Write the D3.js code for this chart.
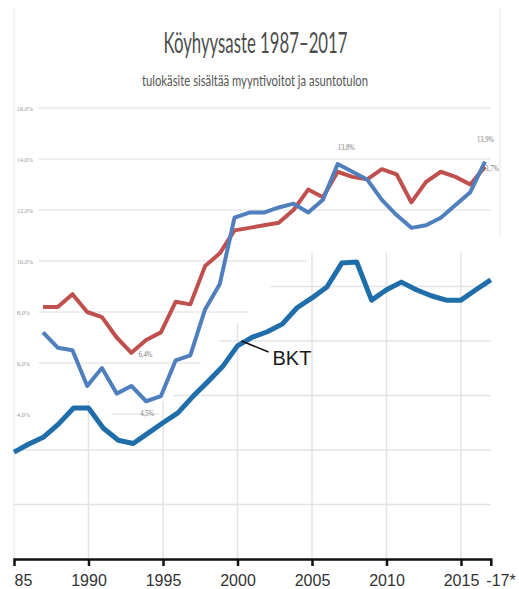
<!DOCTYPE html>
<html>
<head>
<meta charset="utf-8">
<script src="https://cdn.jsdelivr.net/npm/d3@7"></script>
<style>
  body { margin: 0; background: #fff; }
  svg { display: block; }
</style>
</head>
<body>
<div id="chart"></div>
<script>
// poverty rate (upper chart), 1987-2017, percent
const povYears = d3.range(1987, 2018)
const povRed = [8.2, 8.2, 8.7, 8.0, 7.8, 7.0, 6.4, 6.9, 7.2, 8.4, 8.3, 9.8, 10.3, 11.2, 11.3, 11.4,
  11.5, 12.0, 12.8, 12.5, 13.5, 13.3, 13.2, 13.6, 13.4, 12.3, 13.1, 13.5, 13.3, 13.0, 13.7]
const povBlue = [7.2, 6.6, 6.5, 5.1, 5.8, 4.8, 5.1, 4.5, 4.7, 6.1, 6.3, 8.1, 9.1, 11.7, 11.9, 11.9,
  12.1, 12.25, 11.9, 12.4, 13.8, 13.5, 13.2, 12.4, 11.8, 11.3, 11.4, 11.7, 12.2, 12.7, 13.9]
const povTicks = [4, 6, 8, 10, 12, 14, 16]
const povTickLabels = ['4,0%', '6,0%', '8,0%', '10,0%', '12,0%', '14,0%', '16,0%']
// where each upper gridline stops being visible (year units)
const povGridFrom = [1991.7, 1986.7, 1986.7, 1986.7, 1986.7, 1986.7, 1986.7]
const povGridTo = [1994.9, 1997.7, 2000.9, 2004.9, 2017.4, 2017.4, 2017.4]
const povNotes = [
  { text: '6,4%', year: 1993, series: 'red' },
  { text: '4,5%', year: 1994, series: 'blue' },
  { text: '13,8%', year: 2007, series: 'blue' },
  { text: '13,9%', year: 2017, series: 'blue' },
  { text: '13,7%', year: 2017, series: 'red' }
]

// BKT (lower chart), 1985-2017
const bktYears = d3.range(1985, 2018)
const bkt = [19.6, 21.1, 22.4, 24.8, 27.7, 27.7, 24.0, 21.8, 21.2, 23.1, 25.0, 26.8, 29.8, 32.5,
  35.3, 39.1, 40.7, 41.7, 43.1, 46.1, 47.9, 49.9, 54.3, 54.5, 47.5, 49.4, 50.8, 49.4, 48.3,
  47.5, 47.5, 49.4, 51.2]
const bktGrid = [10, 20, 30, 40, 50]
const bktGridFrom = [1985, 1985, 1995.7, 1998.8, 2002.2]
const bktTicks = [1985, 1990, 1995, 2000, 2005, 2010, 2015, 2017]
const bktTickLabels = ['85', '1990', '1995', '2000', '2005', '2010', '2015', '-17*']
const bktVGridTop = [29, 29, 43.3, 56.2, 56.2, 56.2]

const width = 519
const height = 589
const red = '#c0504d'
const blue = '#4f7fbd'
const bktBlue = '#1f6eaa'

const svg = d3.select('#chart').append('svg')
  .attr('width', width)
  .attr('height', height)

svg.append('rect').attr('width', width).attr('height', height).attr('fill', '#fff')

const xUp = d3.scaleLinear().domain([1987, 2017]).range([43, 485])
const yUp = d3.scaleLinear().domain([4, 16]).range([414, 108])
const xLow = d3.scaleLinear().domain([1985, 2017]).range([14, 490.8])
const yLow = d3.scaleLinear().domain([0, 50]).range([559, 286.5])

// lower chart grid
svg.append('g').selectAll('line')
  .data(bktGrid)
  .enter().append('line')
  .attr('x1', (d, i) => xLow(bktGridFrom[i]))
  .attr('x2', xLow(2017))
  .attr('y1', d => yLow(d))
  .attr('y2', d => yLow(d))
  .attr('stroke', '#e3e3e3')
  .attr('stroke-width', 1.5)

svg.append('g').selectAll('line')
  .data(bktTicks.slice(1, 7))
  .enter().append('line')
  .attr('x1', d => xLow(d))
  .attr('x2', d => xLow(d))
  .attr('y1', (d, i) => yLow(bktVGridTop[i]))
  .attr('y2', yLow(0))
  .attr('stroke', '#e3e3e3')
  .attr('stroke-width', 1.5)

// frame of the upper chart
svg.append('line').attr('x1', 14).attr('x2', 14).attr('y1', 8).attr('y2', 559)
  .attr('stroke', '#e6e6e6')
svg.append('line').attr('x1', 500).attr('x2', 500).attr('y1', 8).attr('y2', 237)
  .attr('stroke', '#e6e6e6')

// titles
svg.append('text')
  .attr('x', 255.5)
  .attr('y', 53)
  .attr('text-anchor', 'middle')
  .attr('textLength', 184)
  .attr('lengthAdjust', 'spacingAndGlyphs')
  .style('font-family', 'Lato, "Open Sans", sans-serif')
  .style('font-size', '28px')
  .style('fill', '#4d4d4d')
  .text('Köyhyysaste 1987–2017')

svg.append('text')
  .attr('x', 255)
  .attr('y', 86)
  .attr('text-anchor', 'middle')
  .attr('textLength', 226)
  .attr('lengthAdjust', 'spacingAndGlyphs')
  .style('font-family', 'Lato, "Open Sans", sans-serif')
  .style('font-size', '15px')
  .style('fill', '#555')
  .text('tulokäsite sisältää myyntivoitot ja asuntotulon')

// upper chart grid and tick labels
const upGrid = svg.append('g')
upGrid.selectAll('line')
  .data(povTicks)
  .enter().append('line')
  .attr('x1', (d, i) => xUp(povGridFrom[i]))
  .attr('x2', (d, i) => xUp(povGridTo[i]))
  .attr('y1', d => yUp(d))
  .attr('y2', d => yUp(d))
  .attr('stroke', '#e8e8e8')
  .attr('stroke-width', 1.5)

upGrid.selectAll('text')
  .data(povTicks)
  .enter().append('text')
  .attr('x', 17)
  .attr('y', d => yUp(d) + 2.5)
  .attr('textLength', d => d >= 10 ? 16 : 13)
  .attr('lengthAdjust', 'spacingAndGlyphs')
  .style('font-family', '"Liberation Serif", serif')
  .style('font-size', '7px')
  .style('fill', '#999')
  .text((d, i) => povTickLabels[i])

// poverty lines
const upLine = d3.line()
  .x((d, i) => xUp(povYears[i]))
  .y(d => yUp(d))

svg.append('path')
  .datum(povRed)
  .attr('d', upLine)
  .attr('fill', 'none')
  .attr('stroke', red)
  .attr('stroke-width', 4)
  .attr('stroke-linejoin', 'round')

svg.append('path')
  .datum(povBlue)
  .attr('d', upLine)
  .attr('fill', 'none')
  .attr('stroke', blue)
  .attr('stroke-width', 4)
  .attr('stroke-linejoin', 'round')

// value notes
const noteOffset = {
  '6,4%': [7, 4], '4,5%': [-6, 15], '13,8%': [0, -14], '13,9%': [-8, -20], '13,7%': [-3, 4]
}
svg.append('g').selectAll('text')
  .data(povNotes)
  .enter().append('text')
  .attr('x', d => xUp(d.year) + noteOffset[d.text][0])
  .attr('y', d => {
    const vals = d.series === 'red' ? povRed : povBlue
    return yUp(vals[d.year - 1987]) + noteOffset[d.text][1]
  })
  .attr('textLength', d => d.text.length > 4 ? 17 : 14)
  .attr('lengthAdjust', 'spacingAndGlyphs')
  .style('font-family', '"Liberation Serif", serif')
  .style('font-size', '7.5px')
  .style('fill', '#777')
  .text(d => d.text)

// BKT line
const lowLine = d3.line()
  .x((d, i) => xLow(bktYears[i]))
  .y(d => yLow(d))

svg.append('path')
  .datum(bkt)
  .attr('d', lowLine)
  .attr('fill', 'none')
  .attr('stroke', bktBlue)
  .attr('stroke-width', 5)
  .attr('stroke-linejoin', 'round')

// BKT label with leader
const bx = xLow(2000)
const by = yLow(bkt[2000 - 1985])
svg.append('line')
  .attr('x1', bx + 4).attr('y1', by - 5)
  .attr('x2', bx + 31).attr('y2', by + 6)
  .attr('stroke', '#111')
  .attr('stroke-width', 1.6)
svg.append('text')
  .attr('x', bx + 35)
  .attr('y', by + 19)
  .style('font-family', '"Liberation Sans", Arial, sans-serif')
  .style('font-size', '20px')
  .style('fill', '#1a1a1a')
  .text('BKT')

// x axis
const xAxis = d3.axisBottom(xLow)
  .tickValues(bktTicks)
  .tickSize(7)
  .tickPadding(9)
  .tickFormat((d, i) => bktTickLabels[i])

const ax = svg.append('g')
  .attr('transform', 'translate(0,' + yLow(0) + ')')
  .call(xAxis)

ax.select('.domain')
  .attr('stroke', '#111')
  .attr('stroke-width', 2.5)
ax.selectAll('.tick line')
  .attr('stroke', '#111')
  .attr('stroke-width', 2.5)
  .attr('opacity', d => (d === 1985 || d === 2017) ? 0 : 1)
ax.selectAll('.tick text')
  .style('font-family', '"Liberation Sans", Arial, sans-serif')
  .style('font-size', '16px')
  .style('fill', '#333')
  .attr('text-anchor', d => (d === 1985 || d === 2017) ? 'start' : 'middle')
  .attr('dx', d => d === 2017 ? -5 : 0)
</script>
</body>
</html>
